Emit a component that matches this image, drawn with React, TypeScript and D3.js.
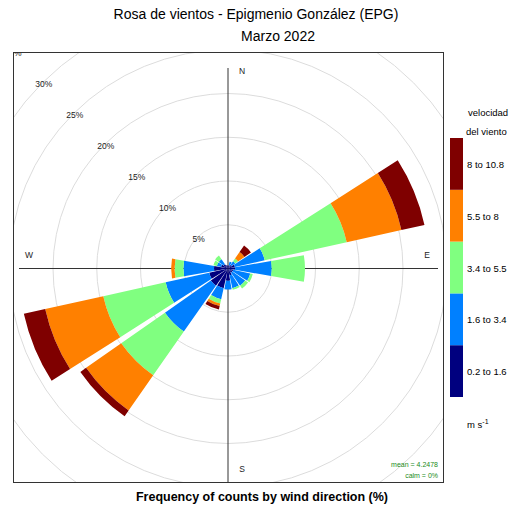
import React from 'react';
import * as d3 from 'd3';

// wind direction (degrees) and frequency (%) per speed bin
const directions = [0, 22.5, 45, 67.5, 90, 112.5, 135, 157.5, 180, 202.5, 225, 247.5, 270, 292.5, 315, 337.5];
const speedBins = ['0.2 to 1.6', '1.6 to 3.4', '3.4 to 5.5', '5.5 to 8', '8 to 10.8'];
const binColors = ['#00007F', '#0080FF', '#80FF80', '#FF8000', '#7F0000'];

const bin1 = [0.3, 0.4, 0.5, 0.8, 0.8, 0.6, 0.6, 0.8, 1.4, 2.3, 2.4, 2.2, 1.6, 0.8, 0.6, 0.4];
const bin2 = [0, 0.4, 0.5, 3.5, 4.2, 2.0, 1.8, 1.5, 1.0, 1.3, 6.4, 5.1, 3.5, 0.5, 0.7, 0];
const bin3 = [0, 0, 0.4, 9.6, 3.8, 0.3, 0.4, 0.2, 0, 0.5, 6.1, 7.3, 1.0, 0.4, 0.5, 0];
const bin4 = [0, 0, 0.9, 6.4, 0, 0, 0, 0, 0, 0.3, 4.9, 6.8, 0.4, 0, 0, 0];
const bin5 = [0, 0, 0.9, 2.7, 0, 0, 0, 0, 0, 0.4, 0.8, 2.5, 0, 0, 0, 0];
const bins = [bin1, bin2, bin3, bin4, bin5];

const ringTicks = [5, 10, 15, 20, 25, 30, 35];

const cx = 228;
const cy = 268.5;
const panel = { x: 13.5, y: 52.5, w: 430, h: 430 };
const font = '"Liberation Sans", Arial, sans-serif';

const App: React.FC = () => {
  const r = d3.scaleLinear().domain([0, 35]).range([0, 35 * 8.75]);
  const half = (10 * Math.PI) / 180;
  const arc = d3.arc<any>();

  const wedges: { d: string; color: string }[] = [];
  directions.forEach((dir, i) => {
    let cum = 0;
    bins.forEach((b, k) => {
      const v = b[i];
      if (v <= 0) return;
      const a = (dir * Math.PI) / 180;
      const path = arc({
        innerRadius: r(cum),
        outerRadius: r(cum + v),
        startAngle: a - half,
        endAngle: a + half,
      }) as string;
      wedges.push({ d: path, color: binColors[k] });
      cum += v;
    });
  });

  const legendY = d3.scaleBand<number>().domain([4, 3, 2, 1, 0]).range([138, 397]);

  return (
    <svg width={518} height={514} style={{ position: 'absolute', left: 0, top: 0, background: '#fff' }} fontFamily={font}>
      <defs>
        <clipPath id="panel">
          <rect x={panel.x} y={panel.y} width={panel.w} height={panel.h} />
        </clipPath>
      </defs>
      <text x={256} y={19} textAnchor="middle" fontSize={14} fill="#000">
        Rosa de vientos - Epigmenio González (EPG)
      </text>
      <text x={278} y={41} textAnchor="middle" fontSize={14} fill="#000">
        Marzo 2022
      </text>

      <g clipPath="url(#panel)">
        {ringTicks.map((t) => (
          <circle key={t} cx={cx} cy={cy} r={r(t)} fill="none" stroke="#dcdcdc" strokeWidth={1} />
        ))}
        <line x1={19} x2={438} y1={cy} y2={cy} stroke="#333" strokeWidth={1} />
        <line x1={cx} x2={cx} y1={68} y2={483} stroke="#333" strokeWidth={1} />
        <g transform={`translate(${cx},${cy})`}>
          {wedges.map((w, i) => (
            <path key={i} d={w.d} fill={w.color} />
          ))}
        </g>
        {ringTicks.map((t) => (
          <text
            key={t}
            x={cx - r(t) * Math.SQRT1_2 + 1.5}
            y={cy - r(t) * Math.SQRT1_2 + 4.5}
            textAnchor="middle"
            fontSize={8.5}
            fill="#222"
          >
            {t}%
          </text>
        ))}
        <text x={242} y={74} textAnchor="middle" fontSize={8.5} fill="#222">N</text>
        <text x={427} y={258} textAnchor="middle" fontSize={8.5} fill="#222">E</text>
        <text x={242} y={472} textAnchor="middle" fontSize={8.5} fill="#222">S</text>
        <text x={29} y={258} textAnchor="middle" fontSize={8.5} fill="#222">W</text>
        <text x={438} y={467} textAnchor="end" fontSize={7} fill="#228B22">mean = 4.2478</text>
        <text x={438} y={478} textAnchor="end" fontSize={7} fill="#228B22">calm = 0%</text>
      </g>
      <rect x={panel.x} y={panel.y} width={panel.w} height={panel.h} fill="none" stroke="#333" strokeWidth={1} />

      {/* legend */}
      <text x={468} y={116} fontSize={9.5} fill="#000">velocidad</text>
      <text x={466} y={135} fontSize={9.5} fill="#000">del viento</text>
      {speedBins.map((s, k) => (
        <g key={s}>
          <rect x={450} y={legendY(k)} width={13} height={legendY.bandwidth()} fill={binColors[k]} />
          <text x={467} y={(legendY(k) as number) + legendY.bandwidth() / 2 + 4} fontSize={9.5} fill="#000">
            {s}
          </text>
        </g>
      ))}
      <text x={467} y={428} fontSize={9.5} fill="#000">
        m s<tspan dy={-4} fontSize={7}>-1</tspan>
      </text>

      <text x={262} y={501} textAnchor="middle" fontSize={12.5} fontWeight="bold" fill="#000">
        Frequency of counts by wind direction (%)
      </text>
    </svg>
  );
};

export default App;
